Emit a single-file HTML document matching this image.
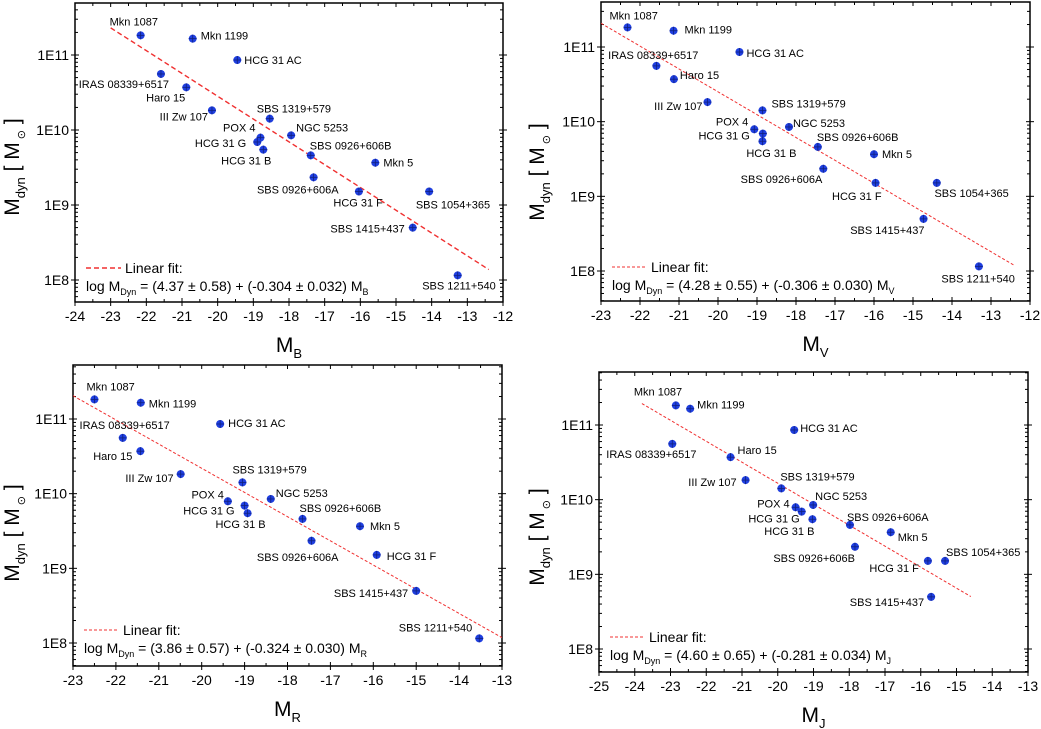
<!DOCTYPE html>
<html><head><meta charset="utf-8"><style>
html,body{margin:0;padding:0;background:#fff;}
svg{display:block;font-family:"Liberation Sans",Arial,sans-serif;}
</style></head><body>
<svg id="fig" width="1041" height="729" viewBox="0 0 1041 729"></svg>
<script>
const names=["Mkn 1087","Mkn 1199","HCG 31 AC","IRAS 08339+6517","Haro 15","III Zw 107","SBS 1319+579","NGC 5253","POX 4","HCG 31 G","HCG 31 B","SBS 0926+606B","Mkn 5","SBS 0926+606A","HCG 31 F","SBS 1054+365","SBS 1415+437","SBS 1211+540"];
const namesJ=["Mkn 1087","Mkn 1199","HCG 31 AC","IRAS 08339+6517","Haro 15","III Zw 107","SBS 1319+579","NGC 5253","POX 4","HCG 31 G","HCG 31 B","SBS 0926+606A","Mkn 5","SBS 0926+606B","HCG 31 F","SBS 1054+365","SBS 1415+437","SBS 1211+540"];
const logMass=[11.262,11.218,10.933,10.747,10.569,10.262,10.151,9.929,9.898,9.84,9.738,9.662,9.564,9.369,9.18,9.18,8.698,8.062];
const magB=[-22.16,-20.70,-19.45,-21.59,-20.88,-20.16,-18.54,-17.94,-18.80,-18.89,-18.72,-17.39,-15.58,-17.31,-16.04,-14.07,-14.53,-13.27];
const magV=[-22.32,-21.14,-19.45,-21.58,-21.13,-20.27,-18.86,-18.18,-19.07,-18.85,-18.86,-17.44,-16.0,-17.30,-15.96,-14.39,-14.73,-13.31];
const magR=[-22.50,-21.42,-19.57,-21.84,-21.43,-20.49,-19.05,-18.39,-19.39,-19.0,-18.93,-17.65,-16.31,-17.44,-15.92,null,-15.0,-13.53];
const magJ=[-22.85,-22.45,-19.54,-22.95,-21.32,-20.90,-19.90,-19.01,-19.50,-19.33,-19.03,-17.98,-16.84,-17.84,-15.80,-15.32,-15.71,null];
const fitB=[4.37,-0.304], fitV=[4.28,-0.306], fitR=[3.86,-0.324], fitJ=[4.60,-0.281];
const fitTextB=["4.37 ± 0.58","-0.304 ± 0.032"], fitTextV=["4.28 ± 0.55","-0.306 ± 0.030"], fitTextR=["3.86 ± 0.57","-0.324 ± 0.030"], fitTextJ=["4.60 ± 0.65","-0.281 ± 0.034"];
const yTickVals=[8,9,10,11];
const yTickLabels=["1E8","1E9","1E10","1E11"];

// label offsets (style only): [dx,dy,anchor]
const S="start",E="end";
const offB=[[-31,-10,S],[8,1,S],[7,4,S],[8,14,E],[-1,14,E],[-4,10,E],[-13,-6,S],[5,-4,S],[-5,-6,E],[-11,5,E],[8,15,E],[-1,-6,S],[8,4,S],[25,16,E],[24,15,E],[61,17,E],[-8,5,E],[38,14,E]];
const offV=[[-18,-8,S],[11,3,S],[7,5,S],[42,-7,E],[6,0,S],[-5,8,E],[9,-3,S],[4,0,S],[-6,-4,E],[-13,6,E],[34,16,E],[-1,-6,S],[8,4,S],[-1,14,E],[6,17,E],[72,14,E],[1,15,E],[36,16,E]];
const offR=[[-8,-9,S],[8,5,S],[8,3,S],[47,-9,E],[-8,9,E],[-7,8,E],[-10,-9,S],[5,-2,S],[-4,-3,E],[-10,9,E],[18,15,E],[-3,-7,S],[10,4,S],[27,20,E],[10,5,S],[0,0,S],[-8,6,E],[-7,-7,E]];
const offJ=[[-42,-10,S],[7,0,S],[6,2,S],[-66,14,S],[7,-3,S],[-9,6,E],[-1,-8,S],[2,-5,S],[-6,0,E],[-2,11,E],[2,16,E],[-3,-4,S],[7,9,S],[0,15,E],[-9,11,E],[1,-5,S],[-7,9,E],[0,0,S]];

const panels=[
 {id:"b",box:[75,3,503,302],xr:[-24,-12],y11:55,y8:280,mags:magB,names:names,off:offB,fit:fitB,fr:[-23,-12.4],ft:fitTextB,band:"B",dash:"5,3",lw:1.4,tcx:12,tcy:167},
 {id:"v",box:[601,2,1030,301],xr:[-23,-12],y11:47,y8:271,mags:magV,names:names,off:offV,fit:fitV,fr:[-23,-12.4],ft:fitTextV,band:"V",dash:"3,2",lw:1,tcx:537,tcy:172},
 {id:"r",box:[73,365,502,666],xr:[-23,-13],y11:419,y8:643,mags:magR,names:names,off:offR,fit:fitR,fr:[-23,-13],ft:fitTextR,band:"R",dash:"3,2",lw:1,tcx:12,tcy:533},
 {id:"j",box:[599,372,1028,672],xr:[-25,-13],y11:425,y8:649,mags:magJ,names:namesJ,off:offJ,fit:fitJ,fr:[-23.8,-14.6],ft:fitTextJ,band:"J",dash:"3,2",lw:1,tcx:537,tcy:537}
];
const NS="http://www.w3.org/2000/svg";
const svg=document.getElementById("fig");
function mk(tag,attrs,parent){const e=document.createElementNS(NS,tag);for(const k in attrs)e.setAttribute(k,attrs[k]);(parent||svg).appendChild(e);return e;}

panels.forEach(p=>{
 const [L,T,R,B]=p.box;
 const g=mk("g",{});
 
 
 const xs=m=>L+(m-p.xr[0])/(p.xr[1]-p.xr[0])*(R-L);
 const ys=lm=>p.y11+(11-lm)/3*(p.y8-p.y11);
 // clip
 const cp=mk("clipPath",{id:"clip"+p.id},g);mk("rect",{x:L,y:T,width:R-L,height:B-T},cp);
 // frame
 const fr=mk("rect",{x:L,y:T,width:R-L,height:B-T,fill:"none",stroke:"#000","stroke-width":1.5},g);
 
 
 // x ticks
 for(let m=p.xr[0];m<=p.xr[1]+1e-9;m+=0.5){
  const x=xs(m),major=Math.abs(m-Math.round(m))<1e-9;
  const len=major?4:3;
  mk("line",{x1:x,x2:x,y1:B+(major?4:0),y2:B-len,stroke:"#000","stroke-width":1},g);
  mk("line",{x1:x,x2:x,y1:T,y2:T+len,stroke:"#000","stroke-width":1},g);
  if(major){const t=mk("text",{x:x,y:B+19,"text-anchor":"middle","font-size":14},g);t.textContent=String(Math.round(m)).replace("-","-");
   
   }
 }
 // y ticks
 const lt=11+(p.y11-T)/((p.y8-p.y11)/3), lb=11-(B-p.y11)/((p.y8-p.y11)/3);
 for(let d=7;d<=11;d++){for(let k=1;k<=9;k++){const lm=d+Math.log10(k);if(lm<lb||lm>lt)continue;const y=ys(lm);const major=k===1;const len=major?4:3;
  mk("line",{x1:L-(major?4:0),x2:L+len,y1:y,y2:y,stroke:"#000","stroke-width":1},g);
  mk("line",{x1:R+(major?4:0),x2:R-len,y1:y,y2:y,stroke:"#000","stroke-width":1},g);}}
 yTickVals.forEach((v,i)=>{const t=mk("text",{x:L-6,y:ys(v)+5,"text-anchor":"end","font-size":14},g);t.textContent=yTickLabels[i];
  
  });
 // fit line
 const fl=mk("line",{x1:xs(p.fr[0]),y1:ys(p.fit[0]+p.fit[1]*p.fr[0]),x2:xs(p.fr[1]),y2:ys(p.fit[0]+p.fit[1]*p.fr[1]),stroke:"#f03030","stroke-width":p.lw,"stroke-dasharray":p.dash,"clip-path":"url(#clip"+p.id+")"},g);
 
 
 // points & labels
 p.mags.forEach((m,i)=>{
  if(m===null)return;
  const x=xs(m),y=ys(logMass[i]);
  const pg=mk("g",{},g);
  
  
  mk("circle",{cx:x,cy:y,r:4,fill:"#1f3fe0"},pg);
  mk("line",{x1:x-4,x2:x+4,y1:y,y2:y,stroke:"#102080","stroke-width":0.8},pg);
  mk("line",{x1:x,x2:x,y1:y-4,y2:y+4,stroke:"#102080","stroke-width":0.8},pg);
  const o=p.off[i];
  const t=mk("text",{x:x+o[0],y:y+o[1],"text-anchor":o[2],"font-size":11},g);
  t.textContent=p.names[i];
  
  
 });
 // legend
 const lx=L+11, ly=T+265;
 const lg=mk("g",{},g);
 
 
 mk("line",{x1:lx,x2:lx+35,y1:ly,y2:ly,stroke:"#f03030","stroke-width":p.lw,"stroke-dasharray":p.dash},lg);
 const t1=mk("text",{x:lx+39,y:ly+5,"font-size":14},lg);t1.textContent="Linear fit:";
 const t2=mk("text",{x:lx,y:ly+23,"font-size":14},lg);
 t2.innerHTML='log M<tspan font-size="9" dy="4">Dyn</tspan><tspan dy="-4"> = ('+p.ft[0]+') + ('+p.ft[1]+') M</tspan><tspan font-size="9" dy="4">'+p.band+'</tspan>';
 // axis titles
 const xt=mk("text",{x:(L+R)/2,y:B+50,"text-anchor":"middle","font-size":21},g);
 xt.innerHTML='M<tspan font-size="13" dy="6">'+p.band+'</tspan>';
 
 
 const yt=mk("text",{x:0,y:0,"text-anchor":"middle","font-size":21,transform:"translate("+(p.tcx+7)+","+p.tcy+") rotate(-90)"},g);
 yt.innerHTML='M<tspan font-size="13" dy="6">dyn</tspan><tspan dy="-6"> [ M</tspan><tspan font-size="11" dy="6"> ⊙</tspan><tspan dy="-6"> ]</tspan>';
 
 
});
</script>
</body></html>
